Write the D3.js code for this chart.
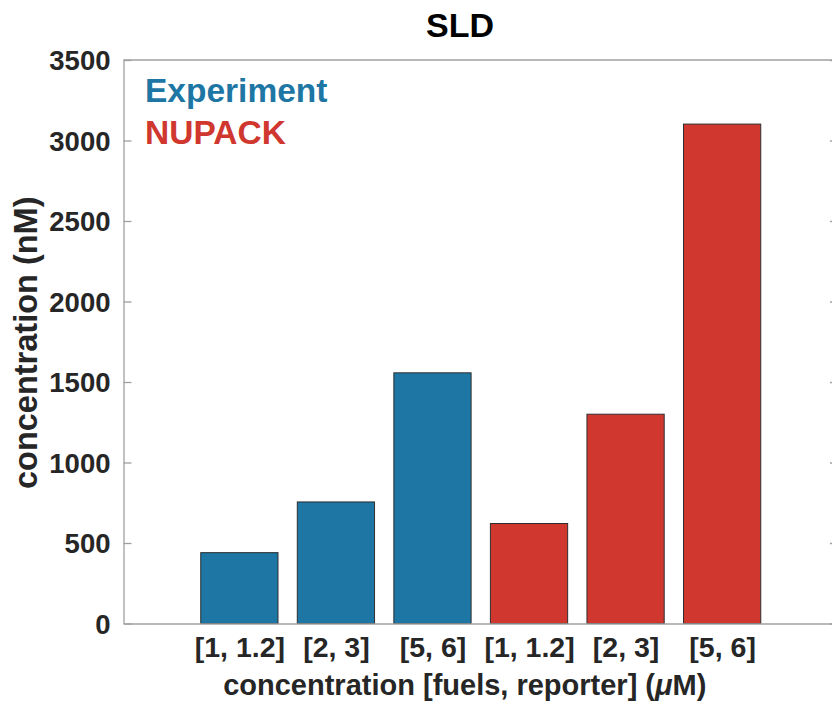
<!DOCTYPE html>
<html>
<head>
<meta charset="utf-8">
<script src="https://cdn.jsdelivr.net/npm/d3@7"></script>
<style>
  html, body { margin: 0; padding: 0; background: #fff; }
  svg { display: block; }
  text { font-family: "Liberation Sans", Arial, Helvetica, sans-serif; font-weight: bold; }
</style>
</head>
<body>
<svg id="chart" width="832" height="702"></svg>
<script>
// Bar categories: [fuels, reporter] concentration pairs in µM
const categories = ["[1, 1.2]", "[2, 3]", "[5, 6]", "[1, 1.2]", "[2, 3]", "[5, 6]"];
// Which series each bar belongs to
const groups = ["Experiment", "Experiment", "Experiment", "NUPACK", "NUPACK", "NUPACK"];
// Measured / predicted concentration (nM)
const values = [440, 755, 1557, 621, 1300, 3102];
// Series names shown in the legend
const seriesNames = ["Experiment", "NUPACK"];
// Y axis ticks
const yTicks = [0, 500, 1000, 1500, 2000, 2500, 3000, 3500];

const colors = { "Experiment": "#1d76a4", "NUPACK": "#d0372f" };
const axisGray = "#a0a0a0";
const textDark = "#262626";

const svg = d3.select("#chart");
const plot = { left: 123.5, right: 838, top: 60, bottom: 623.5 };

const positions = categories.map((_, i) => i + 1);
const x = d3.scaleLinear().domain([-0.2, positions.length + 1.2]).range([plot.left, plot.right]);
const y = d3.scaleLinear().domain([0, 3500]).range([plot.bottom, plot.top]);
const barWidth = 0.8;

// Axes box (top and right mirror lines)
svg.append("line")
  .attr("x1", plot.left).attr("x2", plot.right)
  .attr("y1", plot.top).attr("y2", plot.top)
  .attr("stroke", axisGray).attr("stroke-width", 1.3);

const yRight = svg.append("g")
  .attr("transform", `translate(${plot.right},0)`)
  .call(d3.axisRight(y).tickValues(yTicks).tickSizeInner(-8).tickSizeOuter(0).tickFormat(""));
yRight.selectAll("path, line").attr("stroke", axisGray).attr("stroke-width", 1.3);

// Bars
svg.append("g").selectAll("rect")
  .data(values)
  .join("rect")
  .attr("x", (d, i) => x(positions[i] - barWidth / 2))
  .attr("width", (d, i) => x(positions[i] + barWidth / 2) - x(positions[i] - barWidth / 2))
  .attr("y", d => y(d))
  .attr("height", d => y(0) - y(d))
  .attr("fill", (d, i) => colors[groups[i]])
  .attr("stroke", "#2f2f2f")
  .attr("stroke-width", 1);

// Left axis
const yAxis = svg.append("g")
  .attr("transform", `translate(${plot.left},0)`)
  .call(d3.axisLeft(y).tickValues(yTicks).tickFormat(d3.format("d"))
    .tickSizeInner(-8).tickSizeOuter(0).tickPadding(13));
yAxis.selectAll("path, line").attr("stroke", axisGray).attr("stroke-width", 1.3);
yAxis.selectAll("text")
  .attr("fill", textDark)
  .style("font-size", "27.5px")
  .attr("dy", "0.36em");

// Bottom axis
const xAxis = svg.append("g")
  .attr("transform", `translate(0,${plot.bottom})`)
  .call(d3.axisBottom(x).tickValues(positions).tickSize(0).tickSizeOuter(0).tickPadding(13)
    .tickFormat((d, i) => categories[i]));
xAxis.selectAll("path").attr("stroke", axisGray).attr("stroke-width", 1.3);
xAxis.selectAll("text")
  .attr("fill", textDark)
  .style("font-size", "28.5px")
  .attr("dy", "0.71em");

// Title
svg.append("text")
  .attr("x", 460).attr("y", 37)
  .attr("text-anchor", "middle")
  .attr("fill", "#000")
  .style("font-size", "34px")
  .text("SLD");

// Axis labels
const xLabel = svg.append("text")
  .attr("x", (plot.left + plot.right) / 2 - 16).attr("y", 695)
  .attr("text-anchor", "middle")
  .attr("fill", textDark)
  .style("font-size", "29px");
xLabel.append("tspan").text("concentration [fuels, reporter] (");
xLabel.append("tspan").style("font-style", "italic").text("\u03BC");
xLabel.append("tspan").text("M)");

svg.append("text")
  .attr("transform", `translate(37,${(plot.top + plot.bottom) / 2 + 1}) rotate(-90)`)
  .attr("text-anchor", "middle")
  .attr("fill", textDark)
  .style("font-size", "32.5px")
  .text("concentration (nM)");

// Legend as coloured text
svg.append("g").selectAll("text")
  .data(seriesNames)
  .join("text")
  .attr("x", 145)
  .attr("y", (d, i) => 101.5 + i * 42)
  .attr("fill", d => colors[d])
  .style("font-size", "33.5px")
  .text(d => d);
</script>
</body>
</html>
